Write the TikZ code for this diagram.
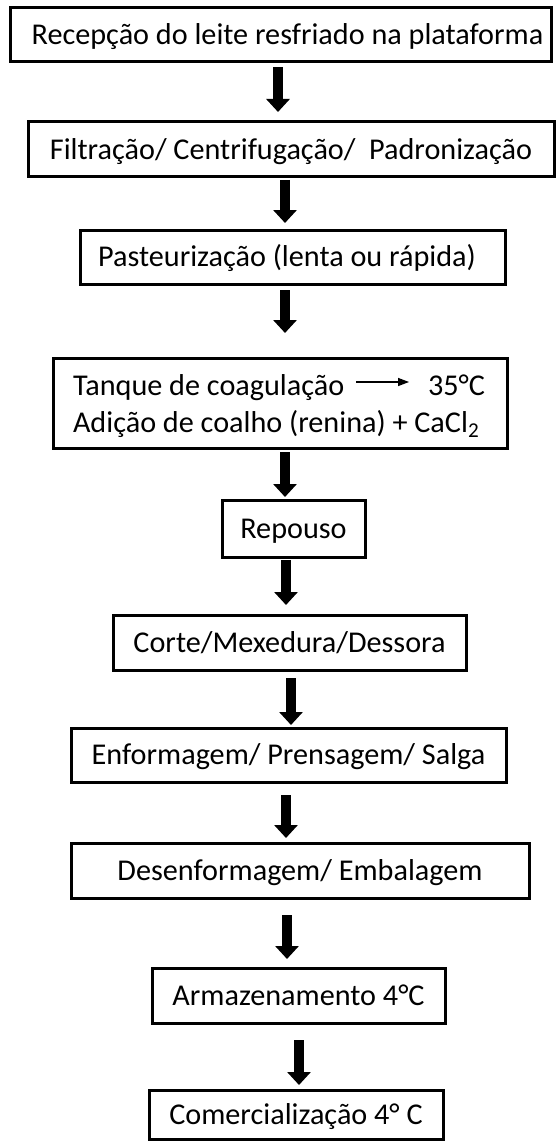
\documentclass[tikz,border=0pt]{standalone}
\usepackage{fontspec}
\setmainfont{Carlito}
\usetikzlibrary{arrows.meta}
\begin{document}
\begin{tikzpicture}[x=1pt,y=-1pt,
  box/.style={draw, line width=3pt, inner sep=0pt, outer sep=0pt,
    font=\fontsize{30.2}{36}\selectfont, text height=25.7pt, text depth=6pt},
  txt/.style={inner sep=0pt, outer sep=0pt, font=\fontsize{30.2}{36}\selectfont},
  bigarrow/.style={line width=10.5pt, -{Triangle[width=23pt,length=13pt]}},
  thinarrow/.style={line width=1.3pt, -{Triangle[width=8pt,length=11pt]}}]
\fill[white] (0,0) rectangle (556,1142);
\useasboundingbox (0,0) rectangle (556,1142);

\node[box, minimum width=541pt, minimum height=54pt] (b1) at (280.5,35)
  {\hspace*{14pt}Recepção do leite resfriado na plataforma};
\node[box, minimum width=526pt, minimum height=55pt] (b2) at (291,149.5)
  {Filtração/ Centrifugação/\ \ Padronização};
\node[box, minimum width=425pt, minimum height=54pt] (b3) at (292.5,257)
  {Pasteurização (lenta ou rápida)\hspace*{11pt}};
\node[box, minimum width=454pt, minimum height=90pt] (b4) at (280,403) {};
\node[txt, anchor=base west] (t4a) at (73,395) {Tanque de coagulação};
\node[txt, anchor=base east] (t4c) at (485,395) {35°C};
\node[txt, anchor=base west] (t4b) at (73,432) {Adição de coalho (renina) + CaCl\textsubscript{2}};
\node[box, minimum width=143pt, minimum height=57pt] (b5) at (293.5,528.5) {Repouso};
\node[box, minimum width=353pt, minimum height=55pt] (b6) at (289.5,642.5) {Corte/Mexedura/Dessora};
\node[box, minimum width=435pt, minimum height=54pt] (b7) at (288.5,755) {Enformagem/ Prensagem/ Salga};
\node[box, minimum width=458pt, minimum height=55pt] (b8) at (300,870.5) {Desenformagem/ Embalagem};
\node[box, minimum width=293pt, minimum height=55pt] (b9) at (298.5,995.5) {Armazenamento 4°C};
\node[box, minimum width=294pt, minimum height=49pt] (b10) at (296,1114.5) {Comercialização 4° C};

\draw[thinarrow, shorten <=12pt, shorten >=19pt] (t4a.east |- 0,382) -- (t4c.west |- 0,382);

\draw[bigarrow, shorten <=5pt, shorten >=10pt] (b1.south -| 278,0) -- (b2.north -| 278,0);
\draw[bigarrow, shorten <=3pt, shorten >=7pt] (b2.south -| 285,0) -- (b3.north -| 285,0);
\draw[bigarrow, shorten <=6pt, shorten >=25pt] (b3.south -| 285,0) -- (b4.north -| 285,0);
\draw[bigarrow, shorten <=4pt, shorten >=3pt] (b4.south -| 285,0) -- (b5.north -| 285,0);
\draw[bigarrow, shorten <=3pt, shorten >=10pt] (b5.south -| 286,0) -- (b6.north -| 286,0);
\draw[bigarrow, shorten <=8pt, shorten >=3pt] (b6.south -| 291,0) -- (b7.north -| 291,0);
\draw[bigarrow, shorten <=13pt, shorten >=5pt] (b7.south -| 286,0) -- (b8.north -| 286,0);
\draw[bigarrow, shorten <=17pt, shorten >=9pt] (b8.south -| 287,0) -- (b9.north -| 287,0);
\draw[bigarrow, shorten <=17pt, shorten >=5pt] (b9.south -| 299,0) -- (b10.north -| 299,0);
\end{tikzpicture}
\end{document}
